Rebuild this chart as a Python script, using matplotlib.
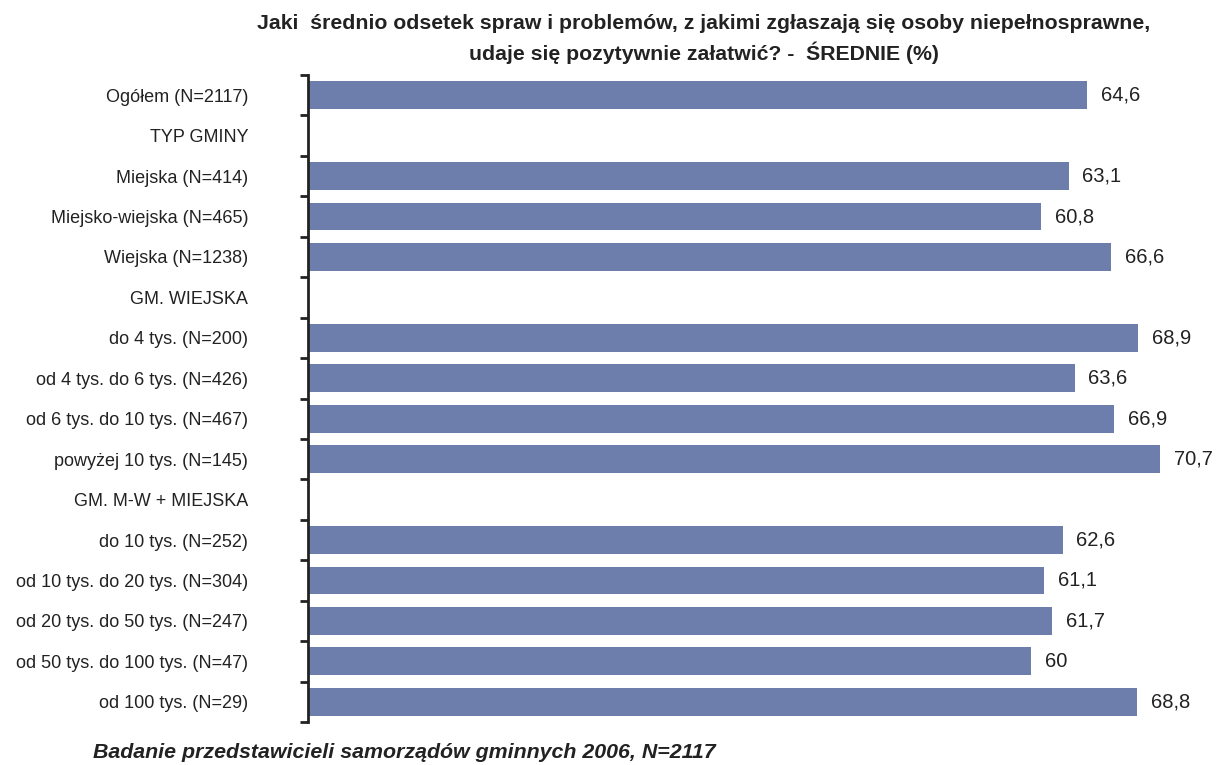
import matplotlib
matplotlib.use("Agg")
import matplotlib.pyplot as plt
import numpy as np

plt.rcParams['font.family'] = ['Liberation Sans', 'DejaVu Sans']

categories = [
    "Ogółem (N=2117)",
    "TYP GMINY",
    "Miejska (N=414)",
    "Miejsko-wiejska (N=465)",
    "Wiejska (N=1238)",
    "GM. WIEJSKA",
    "do 4 tys. (N=200)",
    "od 4 tys. do 6 tys. (N=426)",
    "od 6 tys. do 10 tys. (N=467)",
    "powyżej 10 tys. (N=145)",
    "GM. M-W + MIEJSKA",
    "do 10 tys. (N=252)",
    "od 10 tys. do 20 tys. (N=304)",
    "od 20 tys. do 50 tys. (N=247)",
    "od 50 tys. do 100 tys. (N=47)",
    "od 100 tys. (N=29)",
]
values = [64.6, None, 63.1, 60.8, 66.6, None, 68.9, 63.6, 66.9, 70.7,
          None, 62.6, 61.1, 61.7, 60.0, 68.8]
value_labels = ["64,6", "", "63,1", "60,8", "66,6", "", "68,9", "63,6", "66,9",
                "70,7", "", "62,6", "61,1", "61,7", "60", "68,8"]

title = ("Jaki  średnio odsetek spraw i problemów, z jakimi zgłaszają się osoby niepełnosprawne,\n"
         "udaje się pozytywnie załatwić? -  ŚREDNIE (%)")
footer = "Badanie przedstawicieli samorządów gminnych 2006, N=2117"

bar_color = "#6E7EAC"
text_color = "#222222"

fig = plt.figure(figsize=(12.18, 7.65), dpi=100)
ax = fig.add_axes([308/1218, 1-722/765, 904/1218, (722-75)/765])

n = len(categories)
y = np.arange(n)
for i, (v, lab) in enumerate(zip(values, value_labels)):
    if v is None:
        continue
    ax.barh(i, v, height=0.69, color=bar_color, edgecolor='none')
    ax.text(v + 1.15, i, lab, va='center', ha='left', fontsize=14.5, color=text_color)

ax.set_xlim(0, 75)
ax.set_ylim(n - 0.5, -0.5)
ax.set_yticks(y)
ax.set_yticklabels(categories, fontsize=13, color=text_color)
ax.tick_params(axis='y', which='major', length=0, pad=43)
ax.set_yticks(np.arange(-0.5, n, 1.0), minor=True)
ax.tick_params(axis='y', which='minor', length=6, width=2, color=text_color)
ax.set_xticks([])
for s in ['top', 'right', 'bottom']:
    ax.spines[s].set_visible(False)
ax.spines['left'].set_linewidth(2)
ax.spines['left'].set_color(text_color)

fig.text(704/1218, 1-39/765, title, ha='center', va='center', fontsize=15.3,
         fontweight='bold', color=text_color, linespacing=1.45)
fig.text(93/1218, 1-752/765, footer, ha='left', va='center', fontsize=15.4,
         fontweight='bold', fontstyle='italic', color=text_color)

fig.savefig("out.png", dpi=100)
